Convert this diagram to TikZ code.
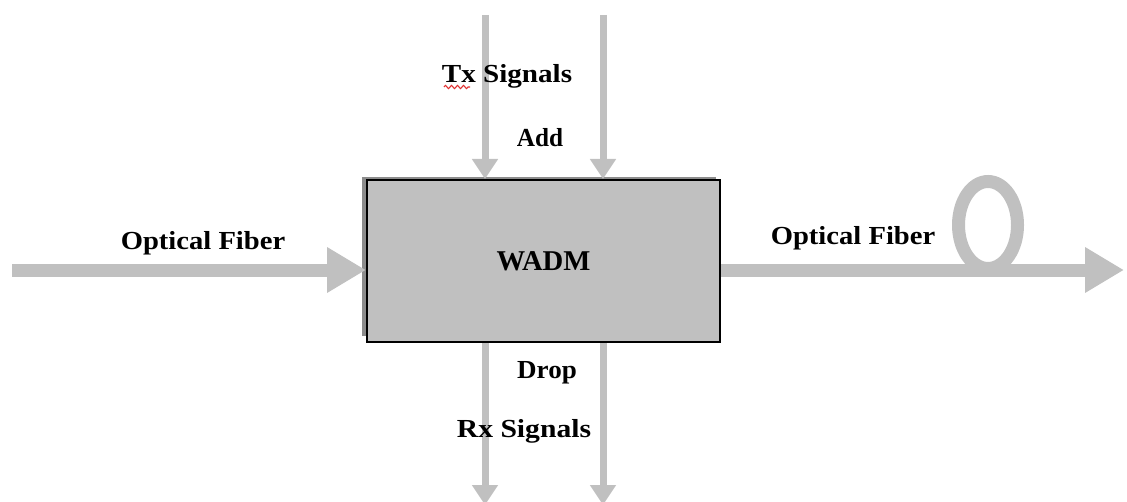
\documentclass[tikz,border=0pt]{standalone}
\usepackage{fontspec}
\usepackage{graphicx}
\setmainfont{Liberation Serif}
\usetikzlibrary{arrows.meta,decorations.pathmorphing}
\definecolor{fibergray}{HTML}{C0C0C0}
\definecolor{shadowgray}{HTML}{8C8C8C}
\definecolor{spellred}{HTML}{E03030}
\tikzset{
  lbl/.style={font=\fontsize{19.5}{21}\selectfont\bfseries, inner sep=0pt, anchor=base},
  bigfiber/.style={draw=fibergray, line width=9.75pt,
    -{Triangle[length=29.25pt,width=32.25pt]}, fibergray},
  sigfiber/.style={draw=fibergray, line width=5.25pt,
    -{Triangle[length=15pt,width=18.75pt]}, fibergray},
  wadmbox/.style={draw=black, line width=1.5pt, fill=fibergray, inner sep=0pt,
    minimum width=264.75pt, minimum height=121.5pt,
    font=\fontsize{21.5}{23}\selectfont\bfseries}
}
\begin{document}
\begin{tikzpicture}[x=0.75pt,y=-0.75pt]
\useasboundingbox (0,0) rectangle (1127,502);
% shadow of the box
\fill[shadowgray] (362,177) rectangle (716,336);
\node[wadmbox] (wadm) at (543.5,261) {WADM};
% coordinates of free ends
\coordinate (lin) at (12,270);
\coordinate (rout) at (1124,270);
\coordinate (t1) at (485,15);
\coordinate (t2) at (603,15);
\coordinate (b1) at (485,505);
\coordinate (b2) at (603,505);
% fiber loop
\draw[fibergray, line width=9.75pt] (988,225) ellipse [x radius=29.5, y radius=43.5];
% main fibers
\draw[bigfiber] (lin) -- (lin -| wadm.west);
\draw[bigfiber] (rout -| wadm.east) -- (rout);
% add / drop
\draw[sigfiber] (t1) -- (t1 |- wadm.north);
\draw[sigfiber] (t2) -- (t2 |- wadm.north);
\draw[sigfiber] (b1 |- wadm.south) -- (b1);
\draw[sigfiber] (b2 |- wadm.south) -- (b2);
% labels
\node[lbl] (tx) at (507,83) {\scalebox{1.12}[1]{Tx Signals}};
\node[lbl] (add) at (540,147) {\scalebox{0.97}[1]{Add}};
\node[lbl] (drop) at (547,378) {\scalebox{1.04}[1]{Drop}};
\node[lbl] (rx) at (524,437) {\scalebox{1.14}[1]{Rx Signals}};
\node[lbl] (ofl) at (203,250) {\scalebox{1.1}[1]{Optical Fiber}};
\node[lbl] (ofr) at (853,245) {\scalebox{1.1}[1]{Optical Fiber}};
% spell-check squiggle under "Tx"
\draw[spellred, line width=0.8pt, decorate,
  decoration={zigzag, amplitude=1.2, segment length=4.5}] (444,87) -- (470,87);
\end{tikzpicture}
\end{document}
